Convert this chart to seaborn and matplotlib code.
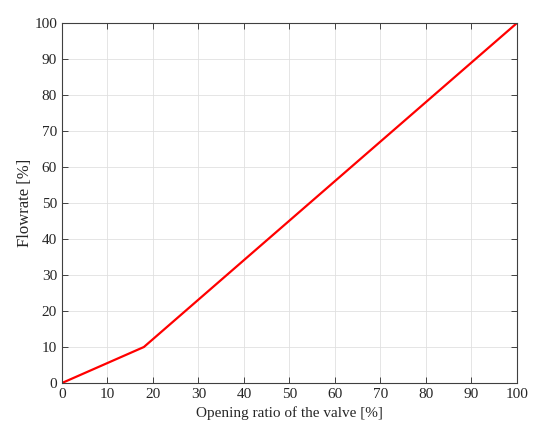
import seaborn as sns
from matplotlib import pyplot as plt
import pandas as pd

#--------------------------Data------------------------------------------------
opening = [0, 18, 100]
flowrate = [0, 10, 100]
ticks = list(range(0, 101, 10))

df = pd.DataFrame({'opening': opening, 'flowrate': flowrate})

#--------------------------Plot------------------------------------------------
sns.set_style('whitegrid')
plt.rcParams['font.family'] = ['Liberation Serif', 'DejaVu Serif']

fig = plt.figure(figsize=(5.5, 4.34), dpi=100)
ax = fig.add_axes([0.1127, 0.1175, 0.8273, 0.8295])
sns.lineplot(data=df, x='opening', y='flowrate', color='#ff0000', linewidth=1.6, ax=ax)

ax.set_xlim(0, 100)
ax.set_ylim(0, 100)
ax.set_xticks(ticks)
ax.set_yticks(ticks)
ax.set_xlabel('Opening ratio of the valve [%]', fontsize=11, color='#262626', labelpad=4)
ax.set_ylabel('Flowrate [%]', fontsize=12, color='#262626', labelpad=1)
ax.tick_params(direction='in', length=4, width=0.6, colors='#262626', labelsize=11,
               top=True, right=True, bottom=True, left=True)
ax.grid(True, color='#e0e0e0', linewidth=0.6)
for s in ax.spines.values():
    s.set_visible(True)
    s.set_color('#404040')
    s.set_linewidth(0.8)

fig.savefig('out.png', dpi=100)
